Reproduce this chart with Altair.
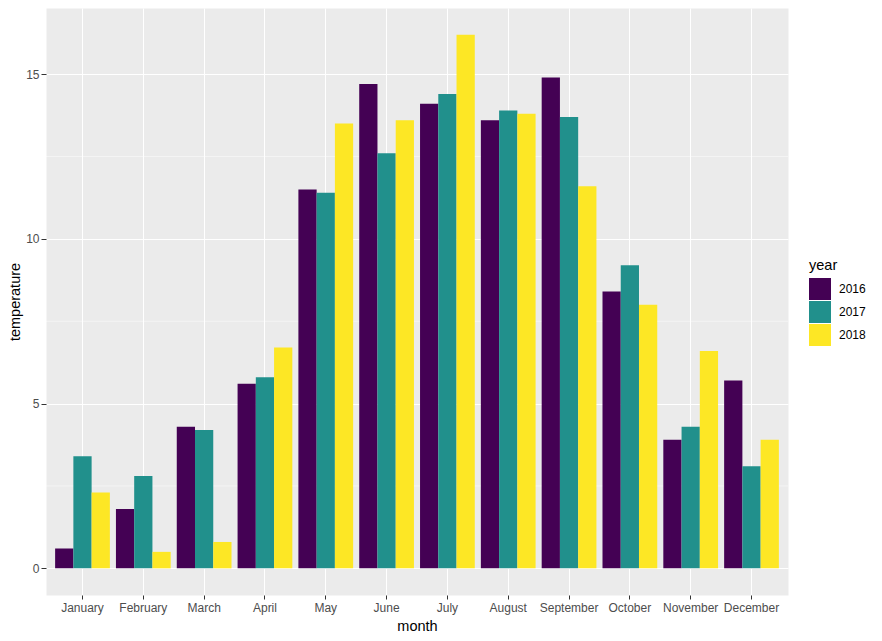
import altair as alt
import pandas as pd

months = ["January", "February", "March", "April", "May", "June", "July",
          "August", "September", "October", "November", "December"]
years = ["2016", "2017", "2018"]
t2016 = [0.6, 1.8, 4.3, 5.6, 11.5, 14.7, 14.1, 13.6, 14.9, 8.4, 3.9, 5.7]
t2017 = [3.4, 2.8, 4.2, 5.8, 11.4, 12.6, 14.4, 13.9, 13.7, 9.2, 4.3, 3.1]
t2018 = [2.3, 0.5, 0.8, 6.7, 13.5, 13.6, 16.2, 13.8, 11.6, 8.0, 6.6, 3.9]
y_major = [0, 5, 10, 15]
y_minor = [2.5, 7.5, 12.5]
colors = ["#440154", "#21908C", "#FDE725"]

rows = []
for yr, vals in zip(years, [t2016, t2017, t2018]):
    for m, v in zip(months, vals):
        rows.append({"month": m, "year": yr, "temperature": v})
df = pd.DataFrame(rows)
minor_df = pd.DataFrame({"temperature": y_minor})

FONT = "Liberation Sans"
yscale = alt.Scale(domain=[-0.81, 17.01], nice=False, zero=False)

minor = alt.Chart(minor_df).mark_rule(color="white", strokeWidth=0.5).encode(
    y=alt.Y("temperature:Q", scale=yscale)
)

bars = alt.Chart(df).mark_bar().encode(
    x=alt.X("month:N", sort=months,
            scale=alt.Scale(paddingInner=0.1, paddingOuter=0.15),
            axis=alt.Axis(title="month", labelAngle=0, labelFontSize=12,
                          labelColor="#4D4D4D", tickColor="#333333", tickSize=4,
                          tickWidth=1, labelPadding=3.5, titleFontSize=14.5,
                          titleFontWeight="normal", titleColor="black",
                          titlePadding=6, domain=False, grid=True,
                          gridColor="white", gridWidth=1, bandPosition=0.5)),
    xOffset=alt.XOffset("year:N", sort=years,
                        scale=alt.Scale(paddingInner=0, paddingOuter=0)),
    y=alt.Y("temperature:Q", scale=yscale,
            axis=alt.Axis(title="temperature", values=y_major, labelFontSize=12,
                          labelColor="#4D4D4D", tickColor="#333333", tickSize=5,
                          tickWidth=1, labelPadding=2, titleFontSize=14.5,
                          titleFontWeight="normal", titleColor="black",
                          titlePadding=3, domain=False, grid=True,
                          gridColor="white", gridWidth=1)),
    y2=alt.datum(0),
    color=alt.Color("year:N", scale=alt.Scale(domain=years, range=colors),
                    legend=alt.Legend(title="year", orient="none", legendX=763,
                                      legendY=251, titleFontSize=14.5,
                                      titleFontWeight="normal", titleColor="black",
                                      labelFontSize=12, labelColor="black",
                                      symbolType="square", symbolSize=484,
                                      symbolStrokeWidth=0, symbolOpacity=1,
                                      rowPadding=1, labelOffset=8,
                                      titlePadding=4.5, padding=0)),
)

chart = alt.layer(minor, bars).properties(
    width=742, height=587,
    padding={"left": 38, "top": 0, "right": 86, "bottom": 38},
    autosize=alt.AutoSizeParams(type="none"),
    background="white",
).configure(font=FONT).configure_view(fill="#EBEBEB", stroke="transparent")

chart.save("out.html", embed_options={"renderer": "svg", "actions": False})
